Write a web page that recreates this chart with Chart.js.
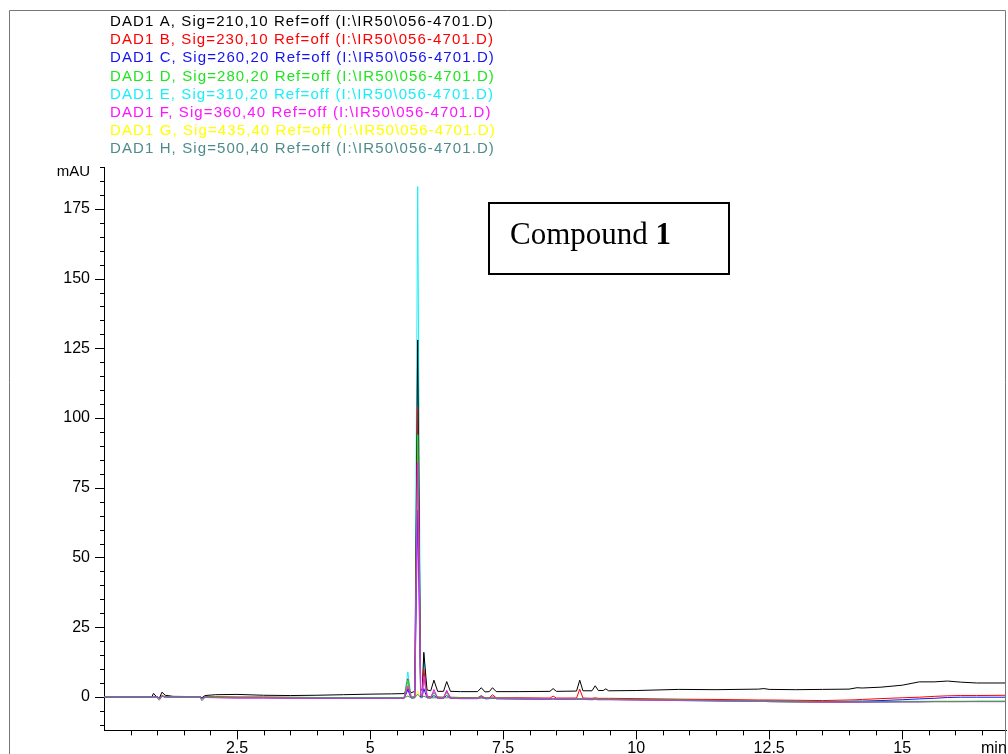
<!DOCTYPE html>
<html><head><meta charset="utf-8">
<script src="https://cdn.jsdelivr.net/npm/chart.js@4.4.0/dist/chart.umd.min.js"></script>
<style>html,body{margin:0;padding:0;background:#fff;overflow:hidden}canvas{display:block}</style>
</head><body>
<canvas id="c" width="1008" height="754"></canvas>
<script>
// retention time (min)
const times = [0, 0.9, 0.93, 0.98, 1.04, 1.09, 1.15, 1.3, 1.8, 1.84,
  1.9, 2.1, 2.5, 3.0, 3.5, 4.0, 4.5, 5.0, 5.4, 5.64,
  5.71, 5.77, 5.84, 5.895, 5.95, 5.98, 6.01, 6.07, 6.14, 6.2,
  6.27, 6.38, 6.44, 6.51, 6.7, 7.02, 7.09, 7.16, 7.24, 7.3,
  7.37, 7.8, 8.38, 8.44, 8.5, 8.88, 8.94, 9.0, 9.17, 9.23,
  9.29, 9.38, 9.43, 9.48, 10.0, 10.8, 11.5, 12.3, 12.4, 12.5,
  13.0, 13.5, 14.0, 14.15, 14.25, 14.6, 15.0, 15.32, 15.6, 15.85,
  16.1, 16.4, 17.0];

// absorbance (mAU) per detector signal
const sigA = [0, 0, 1.3, 0.2, -0.4, 1.7, 0.6, 0.2, 0.1, -0.3,
  0.5, 0.8, 0.9, 0.6, 0.5, 0.6, 0.8, 1.0, 1.1, 1.2,
  3, 1.5, 2, 128, 2.5, 2.5, 16, 2.5, 2.2, 6.0,
  2.0, 2.0, 5.5, 2.0, 1.9, 1.9, 3.3, 1.8, 1.9, 3.3,
  1.9, 1.9, 2.0, 3.0, 2.0, 2.1, 6.0, 2.2, 2.2, 4.0,
  2.3, 2.3, 2.9, 2.2, 2.3, 2.7, 2.6, 2.8, 3.0, 2.7,
  2.6, 2.7, 2.8, 3.3, 3.2, 3.5, 4.2, 5.4, 5.4, 5.7,
  5.3, 5.0, 5.0];
const sigB = [0, 0, 0.2, 0, -0.3, 0.5, 0.1, 0, 0, -0.5,
  0, 0.1, 0, 0, -0.1, -0.2, -0.2, -0.2, -0.2, -0.2,
  6.5, 0, 0, 104, 0.5, 0.5, 10, 0.3, 0, 1.5,
  0, -0.1, 2, -0.1, -0.2, -0.3, 0.4, -0.3, -0.3, 0.8,
  -0.3, -0.3, -0.4, 0.3, -0.4, -0.4, 2.8, -0.4, -0.5, -0.3,
  -0.5, -0.5, -0.5, -0.5, -0.6, -0.8, -0.9, -1.1, -1.1, -1.1,
  -1.2, -1.3, -1.1, -1.0, -0.9, -0.6, -0.3, -0.1, 0.2, 0.4,
  0.5, 0.5, 0.6];
const sigC = [0, 0, 0, 0, -0.3, 0.2, 0, 0, 0, -0.4,
  -0.1, -0.2, -0.3, -0.3, -0.4, -0.5, -0.5, -0.5, -0.5, -0.5,
  2.5, -0.4, -0.3, 67, 0, 0, 3, -0.3, -0.4, 0.5,
  -0.5, -0.5, 0.5, -0.5, -0.6, -0.6, -0.2, -0.6, -0.6, -0.4,
  -0.6, -0.7, -0.8, -0.6, -0.8, -0.8, -0.7, -0.8, -0.9, -0.8,
  -0.9, -0.9, -0.9, -0.9, -1.0, -1.2, -1.3, -1.5, -1.5, -1.5,
  -1.6, -1.7, -1.6, -1.5, -1.5, -1.3, -1.0, -0.7, -0.5, -0.2,
  -0.1, -0.1, -0.1];
const sigD = [0, 0, 0, 0, -0.6, 0.3, 0, 0, 0, -0.8,
  -0.1, -0.1, -0.2, -0.2, -0.3, -0.3, -0.3, -0.3, -0.3, -0.3,
  6, 0, 0, 94, 0.5, 0.5, 7, 0, -0.2, 1.5,
  -0.3, -0.3, 1.5, -0.3, -0.4, -0.5, 0, -0.5, -0.5, -0.2,
  -0.5, -0.6, -0.7, -0.6, -0.7, -0.8, -0.6, -0.8, -0.9, -0.8,
  -0.9, -0.9, -0.9, -0.9, -1.0, -1.2, -1.4, -1.6, -1.6, -1.7,
  -1.9, -2.0, -2.0, -2.0, -1.9, -1.9, -1.8, -1.8, -1.7, -1.7,
  -1.7, -1.6, -1.6];
const sigE = [0, 0, 0, 0, -0.5, 0.3, 0, 0, 0, -0.6,
  -0.1, -0.2, -0.3, -0.3, -0.4, -0.4, -0.4, -0.4, -0.4, -0.4,
  9, 0, 0, 183, 1, 1, 15.3, 0.3, -0.2, 2,
  -0.3, -0.4, 2.2, -0.4, -0.5, -0.5, 0.6, -0.6, -0.6, -0.3,
  -0.6, -0.7, -0.8, -0.7, -0.8, -0.9, -0.7, -0.9, -1.0, -0.9,
  -1.0, -1.0, -1.0, -1.0, -1.1, -1.3, -1.4, -1.6, -1.6, -1.6,
  -1.8, -1.9, -1.9, -1.9, -1.8, -1.8, -1.7, -1.7, -1.6, -1.6,
  -1.6, -1.5, -1.5];
const sigF = [0, 0, 0, 0, -0.4, 0.2, 0, 0, 0, -0.5,
  -0.2, -0.3, -0.4, -0.4, -0.5, -0.5, -0.5, -0.5, -0.5, -0.5,
  4, -0.3, -0.2, 84, 0.5, 0.5, 7.5, 0, -0.3, 2.7,
  -0.4, -0.5, 2.4, -0.5, -0.6, -0.6, 0.3, -0.7, -0.6, 0.2,
  -0.7, -0.8, -0.9, -0.8, -0.9, -0.9, -0.8, -0.9, -1.0, -0.9,
  -1.0, -1.0, -1.0, -1.0, -1.1, -1.3, -1.5, -1.6, -1.6, -1.7,
  -1.8, -1.9, -1.9, -1.9, -1.9, -1.8, -1.8, -1.8, -1.7, -1.7,
  -1.7, -1.7, -1.7];
const sigG = [0, 0, 0, 0, -0.2, 0.1, 0, 0, 0, -0.3,
  -0.1, -0.1, -0.2, -0.2, -0.2, -0.3, -0.3, -0.3, -0.3, -0.3,
  0.5, -0.3, -0.3, 2, -0.2, -0.2, 0.5, -0.3, -0.3, -0.3,
  -0.3, -0.3, -0.3, -0.3, -0.4, -0.4, -0.4, -0.4, -0.4, -0.4,
  -0.4, -0.5, -0.6, -0.6, -0.6, -0.6, -0.6, -0.6, -0.7, -0.7,
  -0.7, -0.7, -0.7, -0.7, -0.8, -0.9, -1.0, -1.2, -1.2, -1.3,
  -1.5, -1.6, -1.6, -1.6, -1.6, -1.6, -1.6, -1.6, -1.5, -1.5,
  -1.5, -1.5, -1.5];
const sigH = [0, 0, 0, 0, -1.2, 0.3, 0, 0, 0, -1.4,
  -0.1, -0.2, -0.2, -0.2, -0.3, -0.3, -0.3, -0.3, -0.3, -0.3,
  0.3, -0.3, -0.3, 1, -0.3, -0.3, 0.3, -0.3, -0.3, -0.3,
  -0.3, -0.3, -0.3, -0.3, -0.4, -0.4, -0.4, -0.4, -0.4, -0.4,
  -0.4, -0.5, -0.6, -0.6, -0.6, -0.7, -0.7, -0.7, -0.7, -0.7,
  -0.8, -0.8, -0.8, -0.8, -0.9, -1.1, -1.3, -1.5, -1.5, -1.5,
  -1.6, -1.7, -1.7, -1.7, -1.7, -1.7, -1.6, -1.6, -1.6, -1.6,
  -1.6, -1.6, -1.6];

const seriesLabels = [
  'DAD1 A, Sig=210,10 Ref=off (I:\\IR50\\056-4701.D)',
  'DAD1 B, Sig=230,10 Ref=off (I:\\IR50\\056-4701.D)',
  'DAD1 C, Sig=260,20 Ref=off (I:\\IR50\\056-4701.D)',
  'DAD1 D, Sig=280,20 Ref=off (I:\\IR50\\056-4701.D)',
  'DAD1 E, Sig=310,20 Ref=off (I:\\IR50\\056-4701.D)',
  'DAD1 F, Sig=360,40 Ref=off (I:\\IR50\\056-4701.D)',
  'DAD1 G, Sig=435,40 Ref=off (I:\\IR50\\056-4701.D)',
  'DAD1 H, Sig=500,40 Ref=off (I:\\IR50\\056-4701.D)'
];
const seriesValues = [sigA, sigB, sigC, sigD, sigE, sigF, sigG, sigH];
const seriesColors = ['#000000', '#ff0000', '#1414f0', '#1ee61e', '#18f0f8', '#ff14ff', '#ffff00', '#4e8c8c'];
// higher = drawn earlier (underneath)
const drawOrder = [6, 5, 4, 3, 8, 2, 7, 1];

const xMajorTicks = [2.5, 5, 7.5, 10, 12.5, 15];
const yMajorTicks = [0, 25, 50, 75, 100, 125, 150, 175];
const xUnitLabel = 'min';
const yUnitLabel = 'mAU';
const annotationText = 'Compound ';
const annotationBold = '1';

const FONT = "'Liberation Sans', Arial, sans-serif";

const decor = {
  id: 'decor',
  afterDraw(chart) {
    const ctx = chart.ctx;
    const xs = chart.scales.x, ys = chart.scales.y;
    const ca = chart.chartArea;
    ctx.save();
    // outer frame
    ctx.strokeStyle = '#777';
    ctx.lineWidth = 1;
    ctx.beginPath();
    ctx.moveTo(9.5, 760); ctx.lineTo(9.5, 10.5); ctx.lineTo(1005.5, 10.5); ctx.lineTo(1005.5, 760);
    ctx.stroke();
    // tick marks
    ctx.strokeStyle = '#000';
    ctx.beginPath();
    for (let i = 1; i <= 33; i++) {
      const px = Math.round(xs.getPixelForValue(i * 0.5)) + 0.5;
      const len = (i % 5 === 0) ? 9 : 5;
      ctx.moveTo(px, ca.bottom); ctx.lineTo(px, ca.bottom + len);
    }
    for (let i = -2; i <= 38; i++) {
      const py = Math.round(ys.getPixelForValue(i * 5)) + 0.5;
      const len = (i % 5 === 0) ? 9 : 4;
      ctx.moveTo(ca.left - len, py); ctx.lineTo(ca.left, py);
    }
    ctx.stroke();
    // unit labels
    ctx.fillStyle = '#000';
    ctx.font = '15px ' + FONT;
    ctx.textAlign = 'right'; ctx.textBaseline = 'middle';
    ctx.fillText(yUnitLabel, ca.left - 14, 172);
    ctx.textAlign = 'left'; ctx.textBaseline = 'top';
    ctx.font = '16px ' + FONT;
    ctx.fillText(xUnitLabel, 981, 741);
    // signal legend
    ctx.font = '15px ' + FONT;
    ctx.textAlign = 'left'; ctx.textBaseline = 'alphabetic';
    try { ctx.letterSpacing = '1.1px'; } catch (e) {}
    chart.data.datasets.forEach((ds, i) => {
      ctx.fillStyle = ds.borderColor;
      ctx.fillText(ds.label, 110, 26 + i * 18.2);
    });
    try { ctx.letterSpacing = '0px'; } catch (e) {}
    // annotation box
    ctx.strokeStyle = '#000'; ctx.lineWidth = 2;
    ctx.strokeRect(489, 203, 240, 71);
    ctx.fillStyle = '#000';
    ctx.font = "31px 'Liberation Serif', 'Times New Roman', serif";
    ctx.fillText(annotationText, 510, 244);
    const w = ctx.measureText(annotationText).width;
    ctx.font = "bold 31px 'Liberation Serif', 'Times New Roman', serif";
    ctx.fillText(annotationBold, 510 + w, 244);
    ctx.restore();
  }
};

new Chart(document.getElementById('c'), {
  type: 'line',
  data: {
    datasets: seriesLabels.map((lab, k) => ({
      label: lab,
      data: times.map((t, i) => ({ x: t, y: seriesValues[k][i] })),
      borderColor: seriesColors[k],
      backgroundColor: seriesColors[k],
      borderWidth: 1,
      pointRadius: 0,
      tension: 0,
      fill: false,
      order: drawOrder[k]
    }))
  },
  options: {
    responsive: false,
    animation: false,
    devicePixelRatio: 1,
    layout: { padding: { top: 167, right: 2, left: 0, bottom: 0 } },
    plugins: { legend: { display: false }, tooltip: { enabled: false } },
    scales: {
      x: {
        type: 'linear', min: 0, max: 16.95,
        afterFit(s) { s.height = 23; },
        afterBuildTicks(s) { s.ticks = xMajorTicks.map(v => ({ value: v })); },
        grid: { drawOnChartArea: false, drawTicks: false },
        border: { color: '#000', width: 1 },
        ticks: { color: '#000', font: { family: FONT, size: 16 }, padding: 9, maxRotation: 0, autoSkip: false,
          callback: v => String(v) }
      },
      y: {
        type: 'linear', min: -12, max: 190,
        afterFit(s) { s.width = 104; },
        afterBuildTicks(s) { s.ticks = yMajorTicks.map(v => ({ value: v })); },
        grid: { drawOnChartArea: false, drawTicks: false },
        border: { color: '#000', width: 1 },
        ticks: { color: '#000', font: { family: FONT, size: 16 }, padding: 14, autoSkip: false,
          callback: v => String(v) }
      }
    }
  },
  plugins: [decor]
});
</script>
</body></html>
